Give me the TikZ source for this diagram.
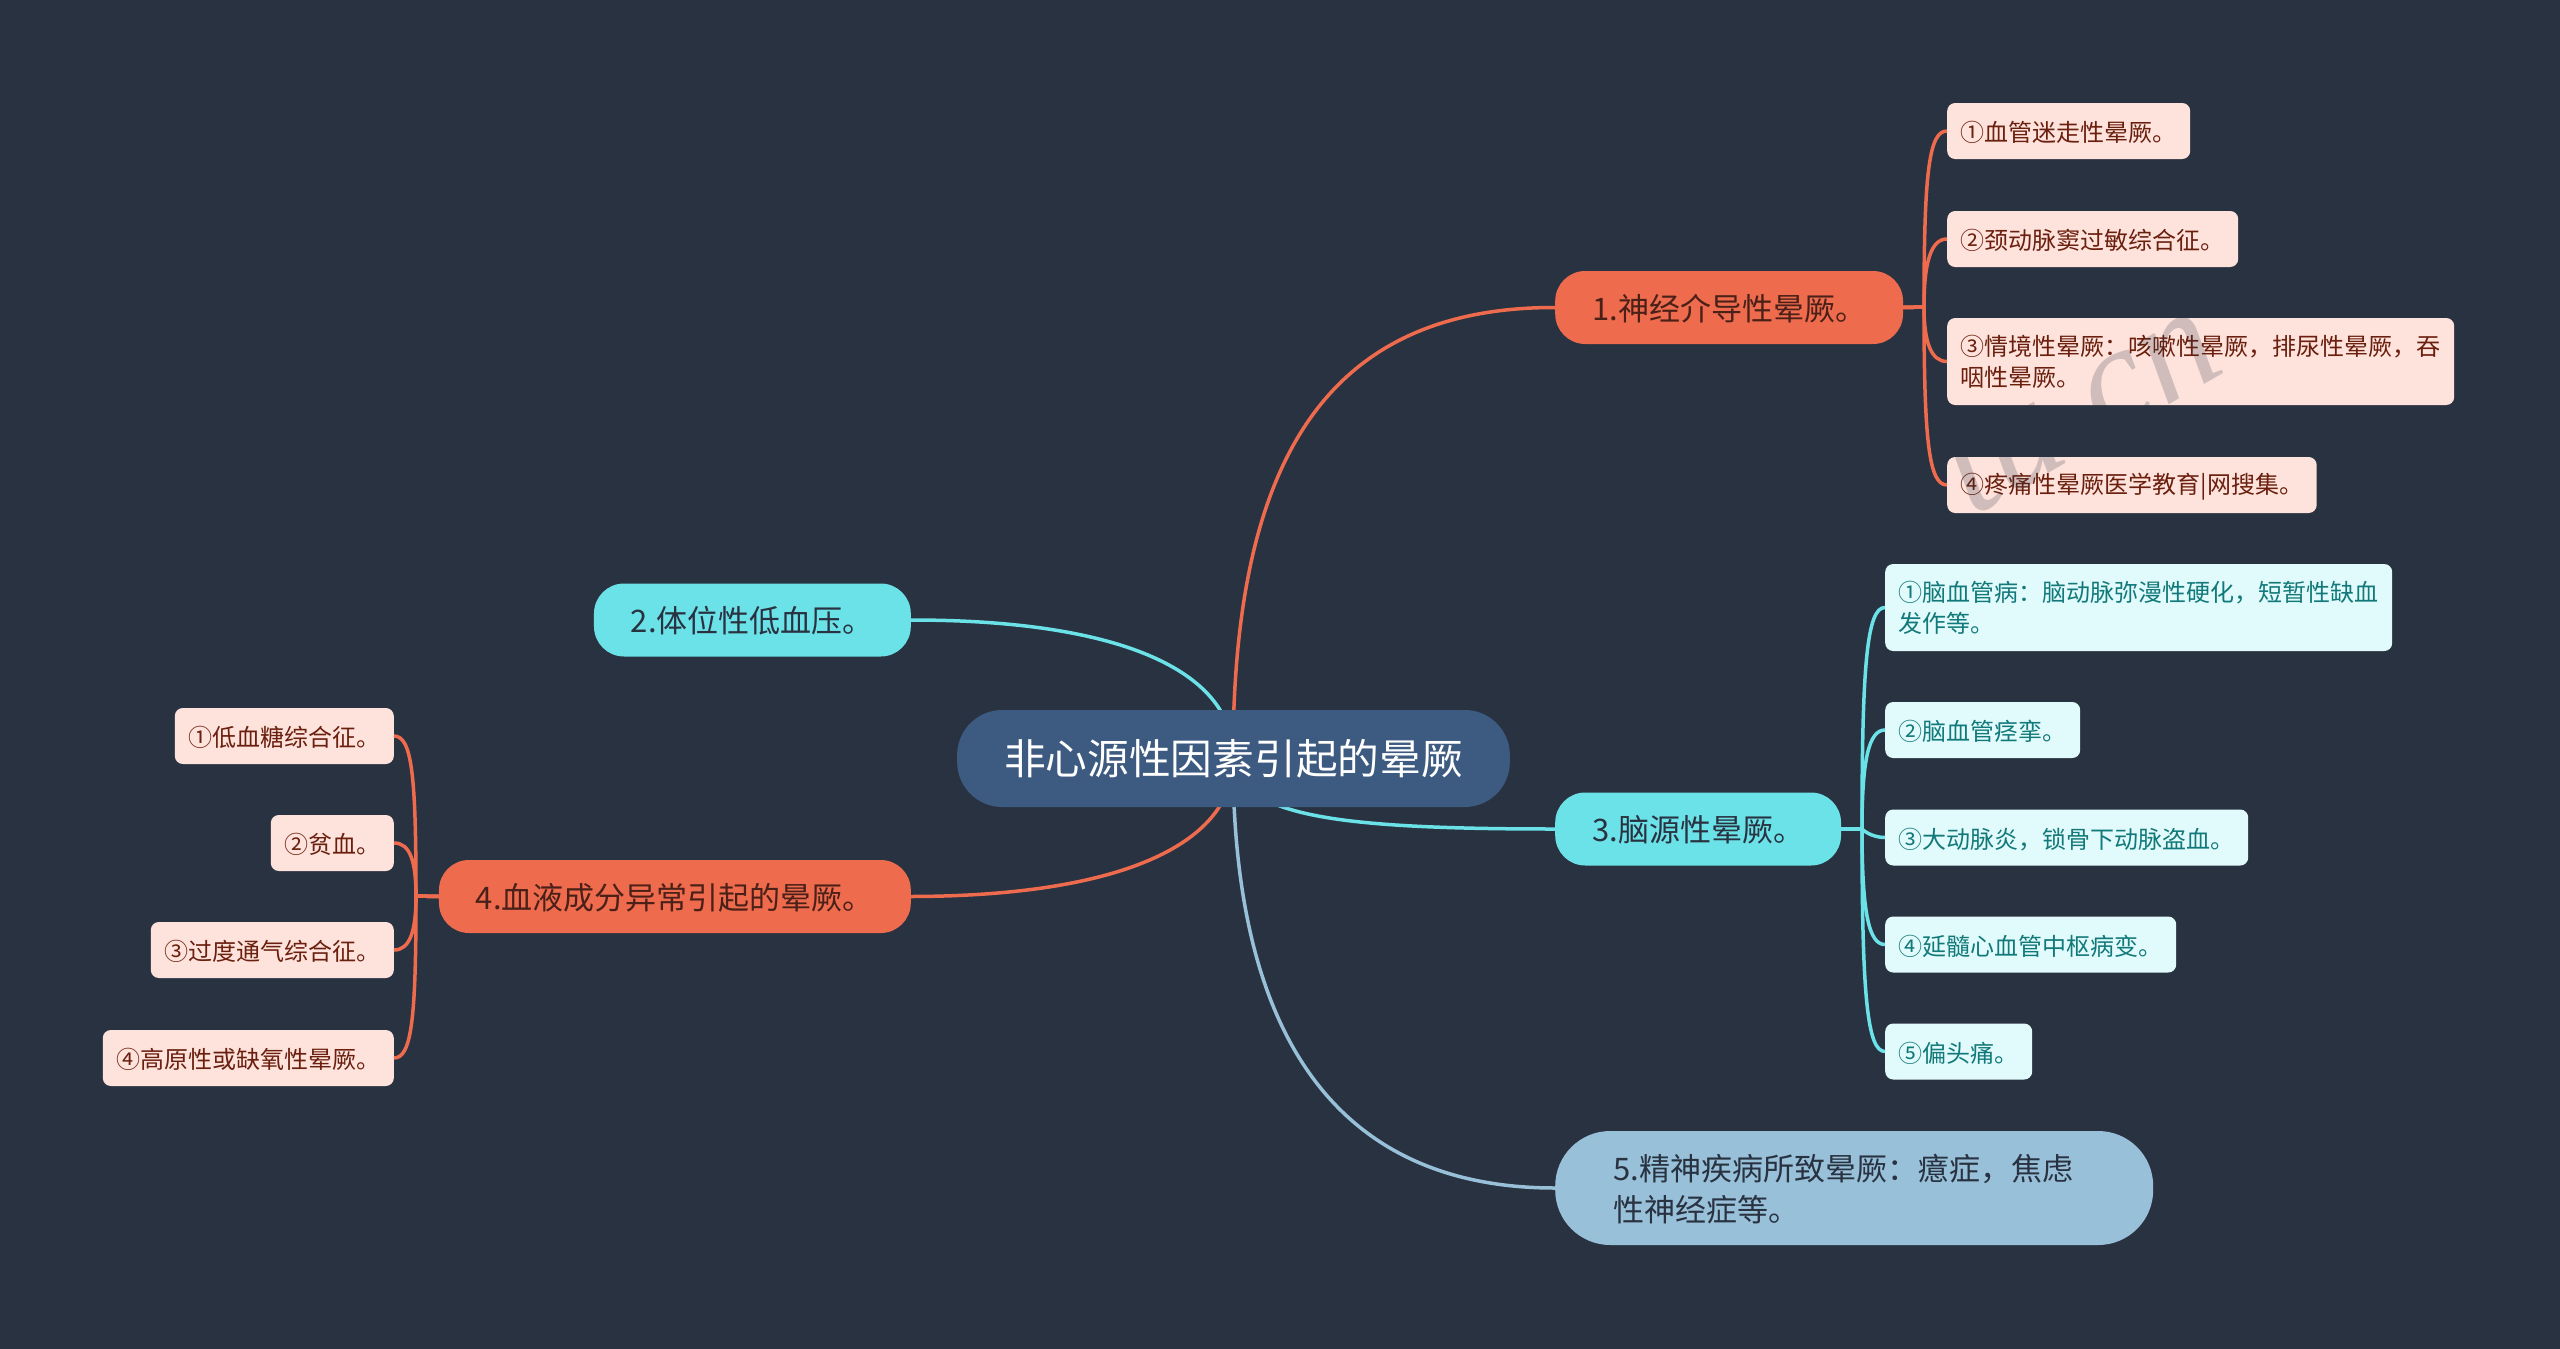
\documentclass[tikz,border=0pt]{standalone}
\usepackage{fontspec}
\setmainfont{Noto Sans CJK SC}
\newfontfamily\markfont{Liberation Serif}
\definecolor{bgdark}{HTML}{293241}
\definecolor{rootblue}{HTML}{3D5A80}
\definecolor{redmain}{HTML}{EE6C4D}
\definecolor{redleaf}{HTML}{FDE3DC}
\definecolor{redtext}{HTML}{6B1F0E}
\definecolor{redhead}{HTML}{4A2018}
\definecolor{cyanmain}{HTML}{6BE2E7}
\definecolor{cyanleaf}{HTML}{E1FAFB}
\definecolor{cyantext}{HTML}{12797A}
\definecolor{skymain}{HTML}{98C1D9}
\tikzset{
	lowtext/.style={execute at begin node={\rule{0pt}{#1}}},
	rootbox/.style={fill=rootblue, text=white, rounded corners=45pt, minimum height=97pt, inner xsep=47pt, font=\fontsize{41.7}{50}\selectfont},
	mainbox/.style={rounded corners=30pt, minimum height=73pt, inner xsep=37pt, lowtext=28pt, font=\fontsize{31}{41}\selectfont},
	redbox/.style={mainbox, fill=redmain, text=redhead},
	cyanbox/.style={mainbox, fill=cyanmain, text=bgdark},
	skybox/.style={fill=skymain, text=bgdark, rounded corners=55pt, minimum height=114pt, text width=482pt, inner xsep=58pt, lowtext=28pt, align=left, font=\fontsize{31}{41}\selectfont},
	leafbox/.style={rounded corners=8pt, minimum height=56pt, inner xsep=13.5pt, lowtext=24pt, align=left, font=\fontsize{24}{30.7}\selectfont},
	redleafbox/.style={leafbox, fill=redleaf, text=redtext},
	cyanleafbox/.style={leafbox, fill=cyanleaf, text=cyantext},
	markbox/.style={text=bgdark, text opacity=.21, rotate=30, anchor=base east, font=\markfont\itshape\fontsize{150}{150}\selectfont},
	redline/.style={draw=redmain, line width=3.5pt},
	cyanline/.style={draw=cyanmain, line width=3.5pt},
	skyline/.style={draw=skymain, line width=3.5pt}
}
\begin{document}
\begin{tikzpicture}[x=1pt, y=-1pt]
	\useasboundingbox[fill=bgdark] (0,0) rectangle (2560,1349);

	\coordinate (rootc) at (1233,758);
	\coordinate (neurojoin) at (1924,307);
	\coordinate (brainjoin) at (1862,829);
	\coordinate (bloodjoin) at (416,896);

	% main branches
	\node[redbox, anchor=west] (neuro) at (1555,307.5) {1.神经介导性晕厥。};
	\node[cyanbox, anchor=east] (posture) at (911,620) {2.体位性低血压。};
	\node[cyanbox, anchor=west] (brain) at (1555,829) {3.脑源性晕厥。};
	\node[redbox, anchor=east] (blood) at (911,896.5) {4.血液成分异常引起的晕厥。};
	\node[skybox, anchor=west] (mental) at (1555,1188) {5.精神疾病所致晕厥：癔症，焦虑\\性神经症等。};

	% leaves
	\node[redleafbox, anchor=west] (neuroa) at (1947,131) {①血管迷走性晕厥。};
	\node[redleafbox, anchor=west] (neurob) at (1947,239) {②颈动脉窦过敏综合征。};
	\node[redleafbox, anchor=west, minimum height=87pt] (neuroc) at (1947,361.5) {③情境性晕厥：咳嗽性晕厥，排尿性晕厥，吞\\咽性晕厥。};
	\node[redleafbox, anchor=west] (neurod) at (1947,485) {④疼痛性晕厥医学教育|网搜集。};

	\node[cyanleafbox, anchor=west, minimum height=87pt] (braina) at (1885,607.5) {①脑血管病：脑动脉弥漫性硬化，短暂性缺血\\发作等。};
	\node[cyanleafbox, anchor=west] (brainb) at (1885,730) {②脑血管痉挛。};
	\node[cyanleafbox, anchor=west] (brainc) at (1885,837.5) {③大动脉炎，锁骨下动脉盗血。};
	\node[cyanleafbox, anchor=west] (braind) at (1885,944.5) {④延髓心血管中枢病变。};
	\node[cyanleafbox, anchor=west] (braine) at (1885,1051.5) {⑤偏头痛。};

	\node[redleafbox, anchor=east] (blooda) at (394,736) {①低血糖综合征。};
	\node[redleafbox, anchor=east] (bloodb) at (394,843) {②贫血。};
	\node[redleafbox, anchor=east] (bloodc) at (394,950) {③过度通气综合征。};
	\node[redleafbox, anchor=east] (bloodd) at (394,1058) {④高原性或缺氧性晕厥。};

	% root to branches
	\draw[redline] (rootc) .. controls (1233,470) and (1320,307) .. (neuro.west);
	\draw[cyanline] (rootc) .. controls (1235,680) and (1140,620) .. (posture.east);
	\draw[cyanline] (rootc) .. controls (1240,815) and (1330,829) .. (brain.west);
	\draw[redline] (rootc) .. controls (1235,835) and (1140,896) .. (blood.east);
	\draw[skyline] (rootc) .. controls (1233,1040) and (1340,1188) .. (mental.west);

	\node[rootbox] (root) at (1233.5,758.5) {非心源性因素引起的晕厥};

	% branches to leaves
	\draw[redline] (neuro.east) -- (neurojoin) .. controls +(0,-135) and +(-18,0) .. (neuroa.west);
	\draw[redline] (neuro.east) -- (neurojoin) .. controls +(0,-45) and +(-16,0) .. (neurob.west);
	\draw[redline] (neuro.east) -- (neurojoin) .. controls +(0,35) and +(-16,0) .. (neuroc.west);
	\draw[redline] (neuro.east) -- (neurojoin) .. controls +(0,135) and +(-18,0) .. (neurod.west);

	\draw[cyanline] (brain.east) -- (brainjoin) .. controls +(0,-165) and +(-18,0) .. (braina.west);
	\draw[cyanline] (brain.east) -- (brainjoin) .. controls +(0,-70) and +(-16,0) .. (brainb.west);
	\draw[cyanline] (brain.east) -- (brainjoin) .. controls +(4,4) and +(-10,0) .. (brainc.west);
	\draw[cyanline] (brain.east) -- (brainjoin) .. controls +(0,85) and +(-16,0) .. (braind.west);
	\draw[cyanline] (brain.east) -- (brainjoin) .. controls +(0,165) and +(-18,0) .. (braine.west);

	\draw[redline] (blood.west) -- (bloodjoin) .. controls +(0,-120) and +(18,0) .. (blooda.east);
	\draw[redline] (blood.west) -- (bloodjoin) .. controls +(0,-35) and +(16,0) .. (bloodb.east);
	\draw[redline] (blood.west) -- (bloodjoin) .. controls +(0,35) and +(16,0) .. (bloodc.east);
	\draw[redline] (blood.west) -- (bloodjoin) .. controls +(0,120) and +(18,0) .. (bloodd.east);

	% watermark
	\node[markbox] (mark) at (2232,368) {tu.cn};
\end{tikzpicture}
\end{document}
